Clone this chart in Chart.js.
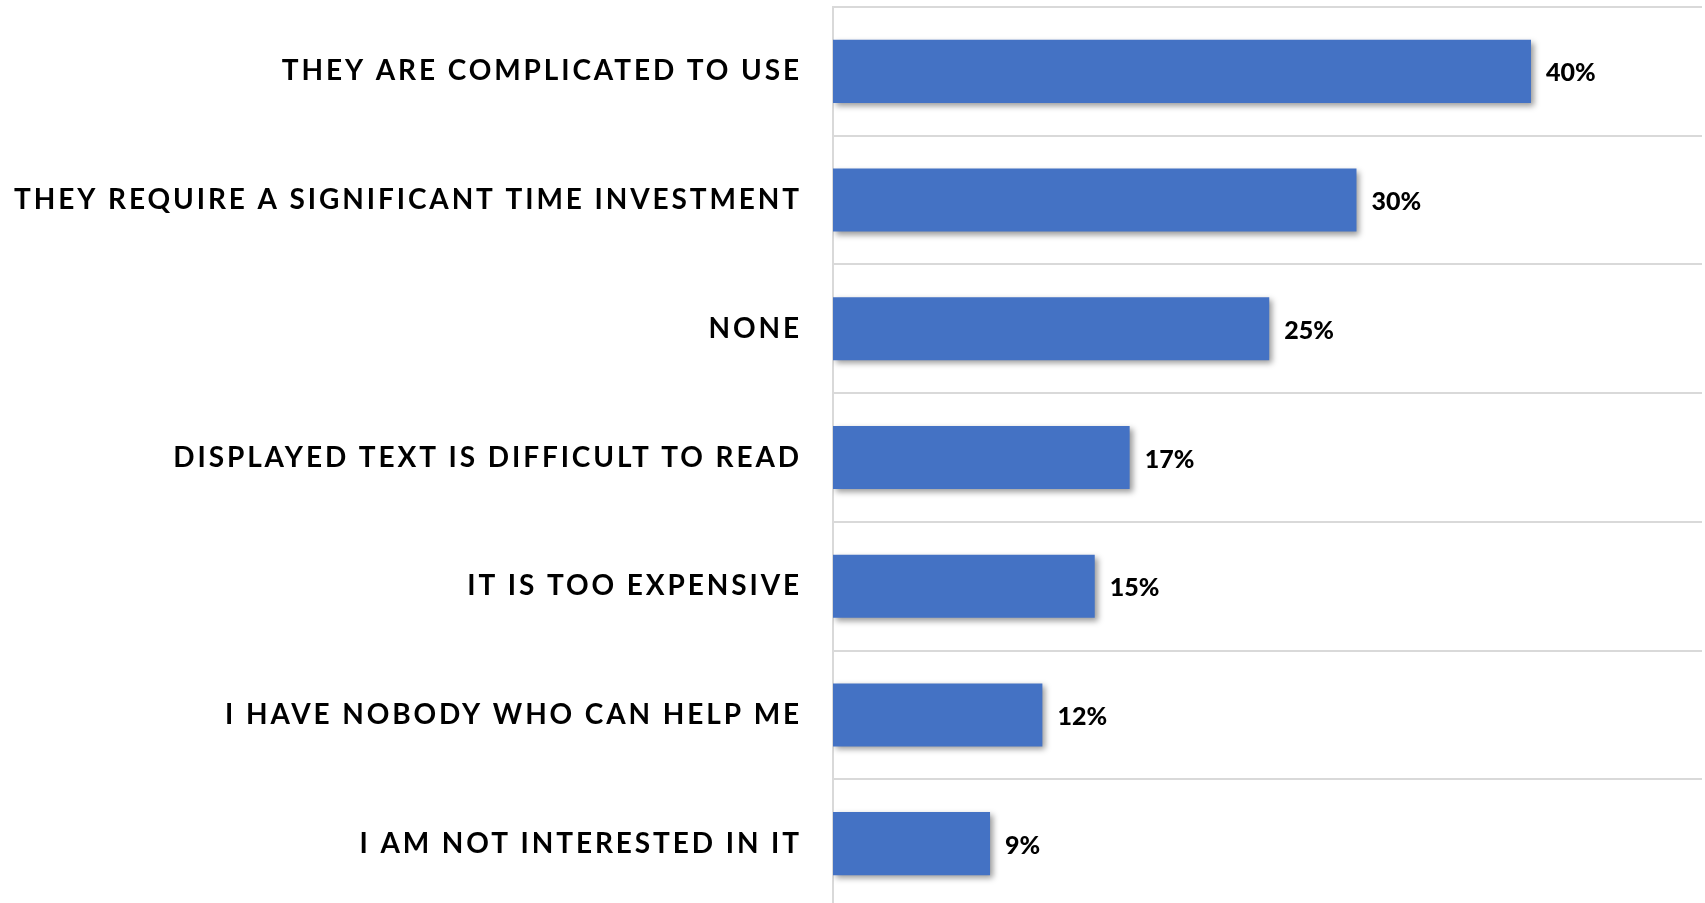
<!DOCTYPE html>
<html>
<head>
<meta charset="utf-8">
<script src="https://cdn.jsdelivr.net/npm/chart.js@4/dist/chart.umd.min.js"></script>
<style>
  html, body { margin: 0; padding: 0; background: #fff; overflow: hidden; }
  #clip { width: 1705px; height: 903px; overflow: hidden; }
  #wrap { position: relative; width: 1705px; height: 910px; }
</style>
</head>
<body>
<div id="clip"><div id="wrap"><canvas id="chart"></canvas></div></div>
<script>
// Data
const categories = [
    'THEY ARE COMPLICATED TO USE',
    'THEY REQUIRE A SIGNIFICANT TIME INVESTMENT',
    'NONE',
    'DISPLAYED TEXT IS DIFFICULT TO READ',
    'IT IS TOO EXPENSIVE',
    'I HAVE NOBODY WHO CAN HELP ME',
    'I AM NOT INTERESTED IN IT'
];
const shares = [40, 30, 25, 17, 15, 12, 9];
const axisMax = 49.8;

const barColor = '#4472C4';
const gridColor = '#d9d9d9';
const labelSpacing = '2.9px';

// Canvas resets its state on resize, so letter spacing is re-applied before layout and draw
const spacingPlugin = {
    id: 'spacing',
    beforeLayout(chart) { chart.ctx.letterSpacing = labelSpacing; },
    beforeDraw(chart) { chart.ctx.letterSpacing = labelSpacing; }
};

// Soft drop shadow under the bars
const shadowPlugin = {
    id: 'barShadow',
    beforeDatasetsDraw(chart) {
        const ctx = chart.ctx;
        ctx.save();
        ctx.shadowColor = 'rgba(0, 0, 0, 0.4)';
        ctx.shadowBlur = 6;
        ctx.shadowOffsetX = 3;
        ctx.shadowOffsetY = 3;
    },
    afterDatasetsDraw(chart) {
        chart.ctx.restore();
    }
};

// Value labels to the right of each bar
const valueLabelPlugin = {
    id: 'valueLabels',
    afterDatasetsDraw(chart) {
        const ctx = chart.ctx;
        const meta = chart.getDatasetMeta(0);
        ctx.save();
        ctx.letterSpacing = '0px';
        ctx.font = "900 25px Lato";
        ctx.fillStyle = '#000';
        ctx.textAlign = 'left';
        ctx.textBaseline = 'middle';
        meta.data.forEach((bar, i) => {
            ctx.fillText(shares[i] + '%', bar.x + 15, bar.y + 2);
        });
        ctx.restore();
    }
};

new Chart(document.getElementById('chart'), {
    type: 'bar',
    data: {
        labels: categories,
        datasets: [{
            data: shares,
            backgroundColor: barColor,
            borderWidth: 0,
            categoryPercentage: 1,
            barPercentage: 0.49
        }]
    },
    options: {
        indexAxis: 'y',
        responsive: true,
        maintainAspectRatio: false,
        animation: false,
        events: [],
        layout: { padding: { top: 7, right: 3, bottom: 2, left: 0 } },
        plugins: {
            legend: { display: false },
            tooltip: { enabled: false }
        },
        scales: {
            x: {
                display: false,
                min: 0,
                max: axisMax
            },
            y: {
                afterFit: s => { s.width = 833; s.paddingTop = 0; s.paddingBottom = 0; },
                grid: {
                    offset: true,
                    color: gridColor,
                    lineWidth: 2,
                    drawTicks: false
                },
                border: { color: gridColor, width: 2 },
                ticks: {
                    padding: 31,
                    color: '#000',
                    font: { family: 'Lato', size: 28, weight: 'bold' }
                }
            }
        }
    },
    plugins: [spacingPlugin, shadowPlugin, valueLabelPlugin]
});
</script>
</body>
</html>
